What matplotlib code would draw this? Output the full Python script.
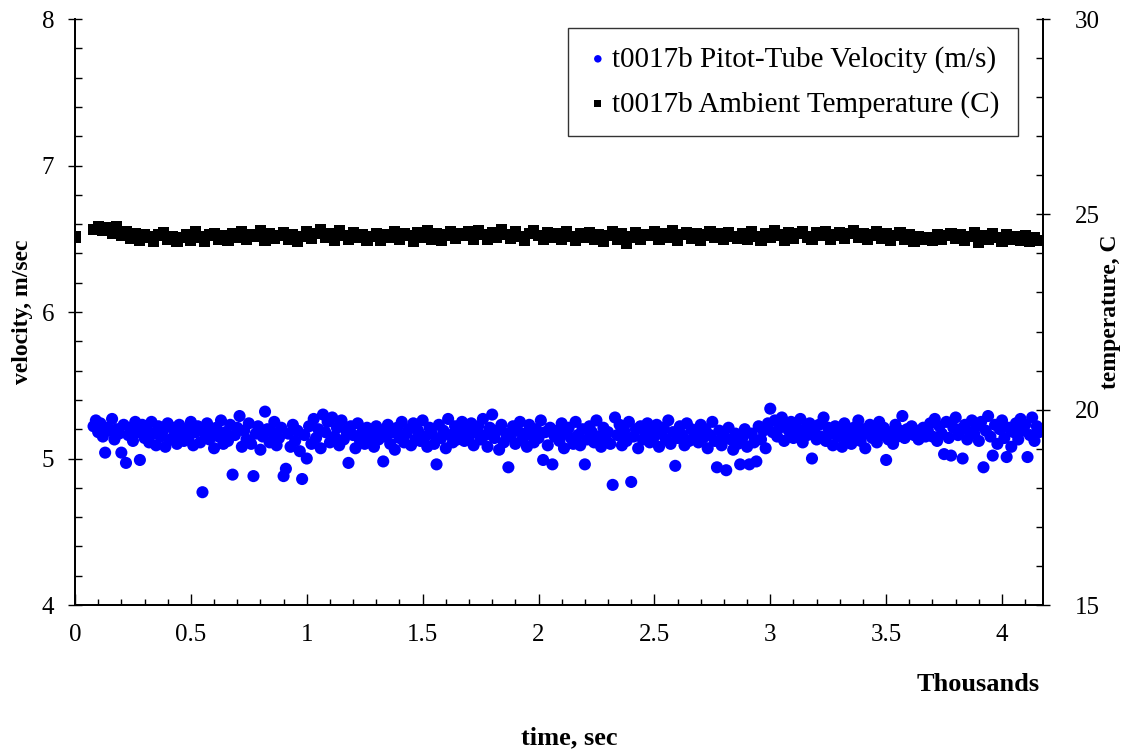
#!/usr/bin/env python3
"""
Pitot-tube velocity and ambient temperature for run t0017b,
velocity on the left axis, temperature on the right axis.
"""

import numpy as np
import matplotlib
matplotlib.use("Agg")
import matplotlib.pyplot as plt
from matplotlib.ticker import MultipleLocator, FormatStrFormatter

plt.rcParams['font.family'] = ['Liberation Serif', 'DejaVu Serif']

# sampling: velocity every 10 s, temperature every 20 s (seconds)
VEL_T0, VEL_DT, VEL_T1 = 80, 10, 4160
TEMP_T0, TEMP_DT, TEMP_T1 = 80, 20, 4160

# velocity readings, m/s (one row = 200 s)
velocity = [
    5.22, 5.26, 5.18, 5.24, 5.15, 5.04, 5.21, 5.19, 5.27, 5.13, 5.20, 5.17, 5.04, 5.23, 4.97, 5.16, 5.21, 5.12, 5.25, 5.18,
    4.99, 5.23, 5.14, 5.20, 5.11, 5.25, 5.17, 5.09, 5.22, 5.15, 5.19, 5.08, 5.24, 5.13, 5.21, 5.16, 5.10, 5.23, 5.18, 5.12,
    5.20, 5.14, 5.25, 5.09, 5.18, 5.22, 5.11, 4.77, 5.17, 5.24, 5.13, 5.19, 5.07, 5.21, 5.15, 5.26, 5.10, 5.18, 5.12, 5.23,
    4.89, 5.16, 5.21, 5.29, 5.08, 5.19, 5.13, 5.24, 5.10, 4.88, 5.17, 5.22, 5.06, 5.15, 5.32, 5.20, 5.11, 5.18, 5.25, 5.09,
    5.14, 5.21, 4.88, 4.93, 5.17, 5.08, 5.23, 5.12, 5.19, 5.05, 4.86, 5.16, 5.00, 5.22, 5.10, 5.27, 5.14, 5.20, 5.07, 5.30,
    5.18, 5.25, 5.11, 5.28, 5.15, 5.21, 5.09, 5.26, 5.13, 5.19, 4.97, 5.22, 5.16, 5.07, 5.24, 5.12, 5.18, 5.10, 5.21, 5.14,
    5.17, 5.08, 5.22, 5.13, 5.19, 4.98, 5.15, 5.23, 5.10, 5.18, 5.06, 5.21, 5.14, 5.25, 5.11, 5.17, 5.20, 5.09, 5.24, 5.13,
    5.19, 5.12, 5.26, 5.15, 5.08, 5.21, 5.17, 5.10, 4.96, 5.23, 5.14, 5.19, 5.07, 5.27, 5.16, 5.11, 5.22, 5.13, 5.18, 5.25,
    5.12, 5.20, 5.15, 5.24, 5.09, 5.18, 5.22, 5.13, 5.27, 5.16, 5.08, 5.21, 5.30, 5.14, 5.19, 5.06, 5.23, 5.11, 5.17, 4.94,
    5.15, 5.22, 5.10, 5.19, 5.25, 5.13, 5.17, 5.08, 5.23, 5.16, 5.11, 5.20, 5.14, 5.26, 4.99, 5.18, 5.09, 5.21, 4.96, 5.15,
    5.19, 5.12, 5.24, 5.07, 5.17, 5.21, 5.14, 5.10, 5.25, 5.16, 5.09, 5.20, 4.96, 5.13, 5.22, 5.18, 5.11, 5.26, 5.15, 5.08,
    5.21, 5.14, 5.18, 5.10, 4.82, 5.28, 5.16, 5.23, 5.09, 5.19, 5.12, 5.25, 4.84, 5.15, 5.20, 5.07, 5.22, 5.13, 5.17, 5.24,
    5.11, 5.19, 5.15, 5.23, 5.08, 5.17, 5.21, 5.13, 5.26, 5.10, 5.18, 4.95, 5.14, 5.22, 5.16, 5.09, 5.24, 5.12, 5.20, 5.15,
    5.18, 5.11, 5.23, 5.14, 5.20, 5.07, 5.16, 5.25, 5.12, 4.94, 5.19, 5.09, 5.15, 4.92, 5.21, 5.13, 5.06, 5.17, 5.10, 4.96,
    5.14, 5.20, 5.08, 4.96, 5.17, 5.11, 4.98, 5.22, 5.13, 5.19, 5.07, 5.24, 5.34, 5.18, 5.26, 5.15, 5.21, 5.28, 5.12, 5.23,
    5.19, 5.25, 5.14, 5.22, 5.17, 5.27, 5.11, 5.20, 5.16, 5.24, 5.00, 5.18, 5.13, 5.23, 5.15, 5.28, 5.12, 5.21, 5.17, 5.09,
    5.22, 5.15, 5.19, 5.08, 5.24, 5.13, 5.18, 5.10, 5.21, 5.16, 5.26, 5.12, 5.20, 5.07, 5.17, 5.23, 5.14, 5.19, 5.11, 5.25,
    5.16, 5.21, 4.99, 5.13, 5.18, 5.10, 5.23, 5.15, 5.19, 5.29, 5.14, 5.20, 5.17, 5.22, 5.16, 5.19, 5.13, 5.18, 5.21, 5.15,
    5.19, 5.24, 5.15, 5.27, 5.12, 5.22, 5.17, 5.03, 5.25, 5.14, 5.02, 5.21, 5.28, 5.16, 5.20, 5.00, 5.23, 5.13, 5.18, 5.26,
    5.17, 5.22, 5.12, 5.25, 4.94, 5.19, 5.29, 5.15, 5.02, 5.23, 5.10, 5.20, 5.26, 5.14, 5.01, 5.21, 5.08, 5.18, 5.24, 5.13,
    5.27, 5.19, 5.23, 5.01, 5.16, 5.28, 5.12, 5.22, 5.18,
]

# ambient temperature, C: first reading at t = 0, then one row = 400 s
temp_first = (0, 24.42)
temperature = [
    24.62, 24.70, 24.58, 24.66, 24.52, 24.68, 24.45, 24.56, 24.38, 24.50, 24.34, 24.48, 24.42, 24.31, 24.47, 24.53, 24.36, 24.44, 24.30, 24.41,
    24.49, 24.33, 24.55, 24.42, 24.30, 24.47, 24.52, 24.37, 24.45, 24.32, 24.51, 24.40, 24.56, 24.35, 24.48, 24.43, 24.58, 24.33, 24.50, 24.39,
    24.46, 24.53, 24.35, 24.49, 24.30, 24.44, 24.55, 24.38, 24.50, 24.60, 24.40, 24.52, 24.33, 24.58, 24.45, 24.36, 24.54, 24.41, 24.48, 24.32,
    24.43, 24.52, 24.34, 24.49, 24.40, 24.56, 24.36, 24.50, 24.45, 24.31, 24.53, 24.42, 24.58, 24.37, 24.50, 24.33, 24.47, 24.56, 24.39, 24.52,
    24.45, 24.55, 24.37, 24.59, 24.48, 24.35, 24.53, 24.42, 24.61, 24.49, 24.38, 24.56, 24.44, 24.33, 24.51, 24.58, 24.46, 24.36, 24.54, 24.42,
    24.51, 24.37, 24.56, 24.44, 24.33, 24.50, 24.41, 24.54, 24.35, 24.47, 24.30, 24.45, 24.55, 24.37, 24.50, 24.25, 24.42, 24.53, 24.35, 24.48,
    24.45, 24.55, 24.36, 24.50, 24.42, 24.58, 24.34, 24.48, 24.53, 24.39, 24.52, 24.32, 24.47, 24.56, 24.41, 24.50, 24.36, 24.54, 24.44, 24.38,
    24.50, 24.36, 24.55, 24.44, 24.34, 24.52, 24.41, 24.58, 24.47, 24.33, 24.54, 24.39, 24.50, 24.57, 24.42, 24.36, 24.53, 24.45, 24.55, 24.35,
    24.47, 24.54, 24.38, 24.50, 24.58, 24.42, 24.52, 24.35, 24.47, 24.55, 24.39, 24.50, 24.33, 24.45, 24.54, 24.37, 24.48, 24.30, 24.43, 24.35,
    24.41, 24.32, 24.48, 24.36, 24.45, 24.52, 24.38, 24.48, 24.33, 24.43, 24.54, 24.28, 24.45, 24.35, 24.50, 24.40, 24.31, 24.48, 24.37, 24.43,
    24.34, 24.45, 24.30, 24.41, 24.32,
]

vel_time = np.arange(VEL_T0, VEL_T1 + 1, VEL_DT) / 1000.0
temp_time = np.concatenate([[temp_first[0]], np.arange(TEMP_T0, TEMP_T1 + 1, TEMP_DT)]) / 1000.0
temp_vals = [temp_first[1]] + temperature

fig = plt.figure(figsize=(11.33, 7.54), dpi=100)
ax = fig.add_axes([0.0662, 0.1976, 0.8544, 0.7772])
ax2 = ax.twinx()

h1 = ax.scatter(vel_time, velocity, s=76, marker='o', color='#0000ff',
                edgecolors='none', label='t0017b Pitot-Tube Velocity (m/s)', zorder=3)
h2 = ax2.scatter(temp_time, temp_vals, s=64, marker='s', color='black',
                 edgecolors='none', label='t0017b Ambient Temperature (C)', zorder=3)

ax.set_xlim(0, 4.177)
ax.set_ylim(4, 8)
ax2.set_ylim(15, 30)

ax.xaxis.set_major_locator(MultipleLocator(0.5))
ax.xaxis.set_minor_locator(MultipleLocator(0.1))
ax.xaxis.set_major_formatter(FormatStrFormatter('%g'))
ax.yaxis.set_major_locator(MultipleLocator(1))
ax.yaxis.set_minor_locator(MultipleLocator(0.2))
ax2.yaxis.set_major_locator(MultipleLocator(5))
ax2.yaxis.set_minor_locator(MultipleLocator(1))

ax.tick_params(axis='x', which='major', direction='in', length=8, width=1, pad=14, labelsize=18)
ax.tick_params(axis='x', which='minor', direction='in', length=4, width=1)
ax.tick_params(axis='x', top=False, which='both')
ax.tick_params(axis='y', which='major', direction='inout', length=10, width=1, pad=10, labelsize=18)
ax.tick_params(axis='y', which='minor', direction='in', length=5, width=1)
ax2.tick_params(axis='y', which='major', direction='inout', length=10, width=1, pad=18, labelsize=18)
ax2.tick_params(axis='y', which='minor', direction='in', length=5, width=1)

for a in (ax, ax2):
    for sp in a.spines.values():
        sp.set_linewidth(1.3)
ax2.spines['top'].set_visible(False)
ax.spines['top'].set_visible(False)

ax.set_ylabel('velocity, m/sec', fontsize=17, fontweight='bold')
ax.yaxis.set_label_coords(-0.043, 0.5)
ax2.set_ylabel('temperature, C', fontsize=17, fontweight='bold', rotation=90)
ax2.yaxis.set_label_coords(1.059, 0.5)

fig.text(0.863, 0.092, 'Thousands', fontsize=19, fontweight='bold', ha='center', va='center')
fig.text(0.502, 0.021, 'time, sec', fontsize=19, fontweight='bold', ha='center', va='center')

leg = ax.legend(handles=[h1, h2], loc='upper right', bbox_to_anchor=(0.974, 0.985),
                fontsize=21, frameon=True, fancybox=False, edgecolor='black',
                handletextpad=0.1, markerscale=0.62, borderpad=0.62, labelspacing=0.62,
                handlelength=0.8, borderaxespad=0)
leg.get_frame().set_linewidth(1.0)

fig.savefig('out.png', dpi=100)
